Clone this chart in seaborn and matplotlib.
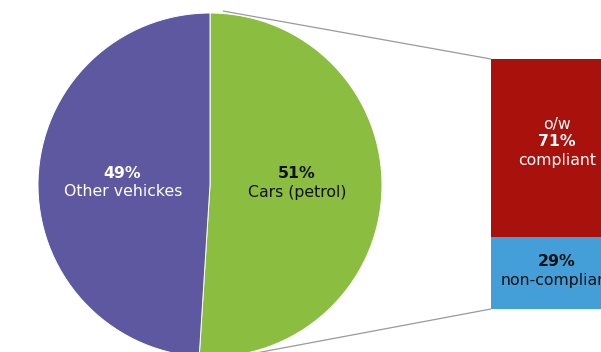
import matplotlib
matplotlib.use("Agg")
import matplotlib.pyplot as plt
import seaborn as sns
import pandas as pd

sns.set_theme(style="white")
plt.rcParams["font.family"] = ["DejaVu Sans"]

# Share of vehicles
pie_labels = ["Cars (petrol)", "Other vehickes"]
pie_values = [51, 49]
pie_colors = ["#8BBD41", "#5E58A0"]

# Breakdown of petrol cars
bar_labels = ["compliant", "non-compliant"]
bar_values = [71, 29]
bar_colors = ["#A8110C", "#449ED8"]

W, H = 601, 352
fig = plt.figure(figsize=(W / 100, H / 100), dpi=100)
ax = fig.add_axes([0, 0, 1, 1])

cx, cy, r = 210, H - 185, 172
ax.pie(pie_values, colors=pie_colors, startangle=90, counterclock=False,
       center=(cx, cy), radius=r, frame=True,
       wedgeprops=dict(edgecolor="white", linewidth=0.7))
ax.set_xlim(0, W)
ax.set_ylim(0, H)
ax.set_aspect("equal")
ax.axis("off")

# connector lines from the car slice to the breakdown bar
line_kw = dict(color="#9A9A9A", linewidth=0.9, solid_capstyle="butt")
ax.plot([223, 491], [H - 11, H - 59], **line_kw)
ax.plot([256, 491], [H - 353, H - 309], **line_kw)

fs = 11.3
ax.text(122, H - 173, f"{pie_values[1]}%", ha="center", va="center",
        color="white", fontsize=fs, fontweight="bold")
ax.text(123, H - 192, pie_labels[1], ha="center", va="center",
        color="white", fontsize=fs)
ax.text(297, H - 173, f"{pie_values[0]}%", ha="center", va="center",
        color="#111111", fontsize=fs, fontweight="bold")
ax.text(297, H - 192, pie_labels[0], ha="center", va="center",
        color="#111111", fontsize=fs)

# stacked breakdown bar
bx0, bx1, by_top, by_bot = 491, 623, 59, 309
bax = fig.add_axes([bx0 / W, (H - by_bot) / H, (bx1 - bx0) / W,
                    (by_bot - by_top) / H])
total = sum(bar_values)
df_full = pd.DataFrame({"g": ["petrol"], "v": [total]})
df_low = pd.DataFrame({"g": ["petrol"], "v": [bar_values[1]]})
sns.barplot(data=df_full, x="g", y="v", color=bar_colors[0], width=1,
            saturation=1, linewidth=0, ax=bax)
sns.barplot(data=df_low, x="g", y="v", color=bar_colors[1], width=1,
            saturation=1, linewidth=0, ax=bax)
bax.set_xlim(-0.5, 0.5)
bax.set_ylim(0, total)
bax.axis("off")

bax.text(0, 74, "o/w", ha="center", va="center", color="white", fontsize=fs)
bax.text(0, 66.8, f"{bar_values[0]}%", ha="center", va="center",
         color="white", fontsize=fs, fontweight="bold")
bax.text(0, 59.2, bar_labels[0], ha="center", va="center", color="white",
         fontsize=fs)
bax.text(0, 18.8, f"{bar_values[1]}%", ha="center", va="center",
         color="#111111", fontsize=fs, fontweight="bold")
bax.text(0, 11.6, bar_labels[1], ha="center", va="center", color="#111111",
         fontsize=fs)

fig.savefig("out.png", dpi=100)
